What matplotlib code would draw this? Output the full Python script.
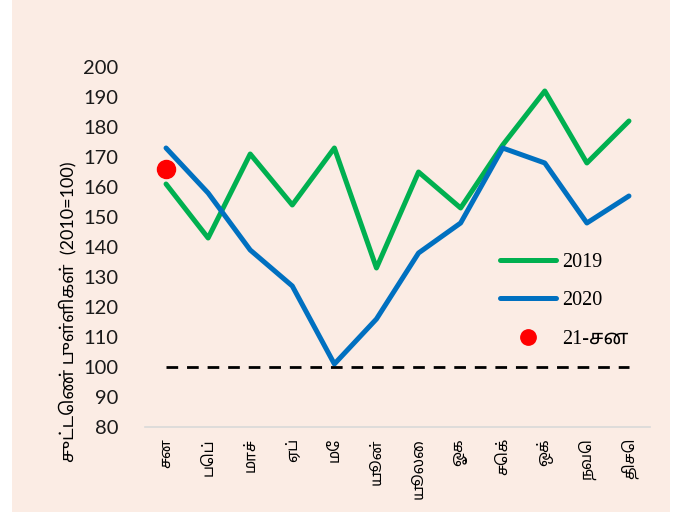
import matplotlib
matplotlib.use('Agg')
from matplotlib import pyplot as plt
from matplotlib.patches import Rectangle

# மாதங்கள்
months = ['சன', 'பெப்', 'மாச்', 'ஏப்', 'மே', 'யூன்', 'யூலை', 'ஓக', 'செக்', 'ஒக்', 'நவெ', 'திசெ']
y2019 = [161, 143, 171, 154, 173, 133, 165, 153, 174, 192, 168, 182]
y2020 = [173, 158, 139, 127, 101, 116, 138, 148, 173, 168, 148, 157]
jan21 = [166]
base = [100] * 12

tamil_fonts = ['Lato', 'Noto Sans Tamil', 'Noto Sans', 'DejaVu Sans']

fig = plt.figure(figsize=(6.91, 5.12), dpi=100)
fig.patch.set_facecolor('white')
fig.patches.append(Rectangle((12 / 691, 0), (670 - 12) / 691, 1, transform=fig.transFigure,
                             facecolor='#FBECE4', edgecolor='none', zorder=-10))

ax = fig.add_axes([145 / 691, 1 - 427 / 512, (650 - 145) / 691, (427 - 67) / 512])
ax.set_facecolor('none')

x = list(range(len(months)))
ax.plot(x, y2019, color='#00B050', lw=3.6, label='2019', solid_capstyle='round')
ax.plot(x, y2020, color='#0070C0', lw=3.6, label='2020', solid_capstyle='round')
ax.plot(x[:1], jan21, 'o', color='#FF0000', ms=13, label='21-சன')
ax.plot(x, base, color='black', lw=2, dashes=(4.2, 3.2))

ax.set_xlim(-0.5, 11.5)
ax.set_ylim(80, 200)
ax.set_yticks(range(80, 201, 10))
ax.set_xticks(x)
ax.set_xticklabels(months, rotation=90, family=tamil_fonts, fontsize=11)
for t in ax.get_yticklabels():
    t.set_family(tamil_fonts)
    t.set_fontsize(14.5)
    t.set_color('#1a1a1a')
ax.tick_params(length=0)
ax.tick_params(axis='y', pad=19)
ax.tick_params(axis='x', pad=8)

for s in ['top', 'right', 'left']:
    ax.spines[s].set_visible(False)
ax.spines['bottom'].set_color('#D9D9D9')
ax.spines['bottom'].set_linewidth(1.2)

ax.set_ylabel('சுட்டெண் புள்ளிகள்  (2010=100)', family=tamil_fonts, fontsize=13)
ax.yaxis.set_label_coords(-0.135, 0.32)

leg = ax.legend(loc='upper left', bbox_to_anchor=(500 / 691, 1 - 253 / 512),
                bbox_transform=fig.transFigure, frameon=False, borderpad=0, borderaxespad=0,
                handlelength=2.8, handletextpad=0.3, labelspacing=0.95, markerscale=0.85,
                prop={'family': ['Liberation Serif', 'Noto Sans Tamil', 'DejaVu Sans'], 'size': 14.5})

fig.savefig('out.png', dpi=100)
